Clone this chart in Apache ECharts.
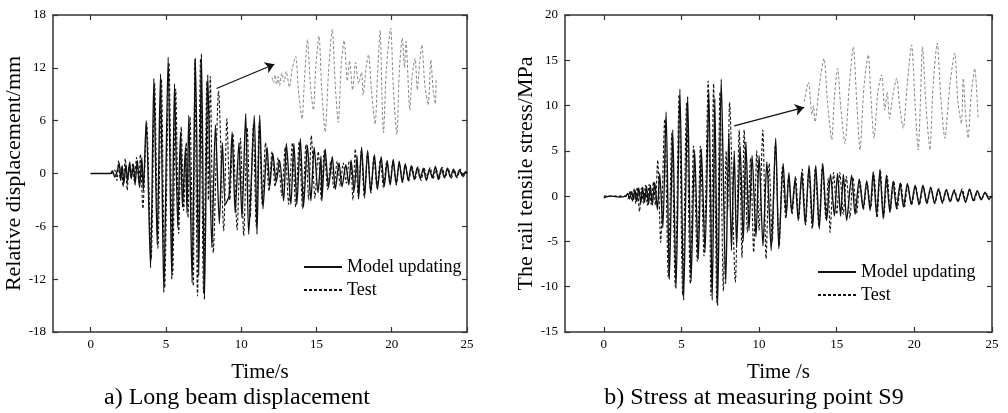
<!DOCTYPE html>
<html>
<head>
<meta charset="utf-8">
<script src="https://cdn.jsdelivr.net/npm/echarts@6/dist/echarts.min.js"></script>
<style>
  html, body { margin: 0; padding: 0; background: #fff; }
  #chart { width: 1008px; height: 413px; }
</style>
</head>
<body>
<div id="chart"></div>
<script>
// time ticks shared by both panels
const timeTicks = [0, 5, 10, 15, 20, 25];

// a) long beam displacement (mm), extrema as [time, value]
const dispModel = [
  [0, 0], [1.3, 0], [1.45, 0.3], [1.6, -0.4], [1.8, 0.5], [1.9, 1.2], [2.0, -0.8], [2.1, 0.9], [2.2, -1.2],
  [2.35, 1.0], [2.45, -0.9], [2.6, 1.3], [2.7, -0.6], [2.85, 1.0], [2.95, -1.3], [3.1, 1.5], [3.25, -1.6],
  [3.4, 1.8], [3.5, -2.0], [3.69, 6.0], [3.98, -10.7], [4.2, 10.8], [4.42, -8.0], [4.64, 11.3], [4.86, -13.5],
  [5.15, 13.2], [5.39, -12.0], [5.57, 10.2], [5.79, -6.1], [5.97, 4.7], [6.1, -3.8], [6.3, 3.0], [6.4, -4.5],
  [6.52, 6.6], [6.74, -12.4], [6.96, 13.1], [7.18, -11.6], [7.36, 13.6], [7.56, -14.3], [7.78, 11.2],
  [8.05, -8.4], [8.29, 5.5], [8.55, -5.7], [8.75, 3.5], [8.95, -3.5], [9.2, -2.5], [9.4, 4.7], [9.6, -4.5],
  [9.85, 3.5], [10.05, -5.0], [10.3, 6.8], [10.5, -6.9], [10.87, 6.6], [11.05, -6.9], [11.23, 6.6],
  [11.45, -4.0], [11.72, 3.0], [11.9, -1.5], [12.1, 2.3], [12.33, -1.0], [12.55, 1.5], [12.82, -3.1],
  [13.0, 3.4], [13.3, -3.5], [13.5, 3.4], [13.7, -3.5], [13.93, 3.95], [14.14, -3.8], [14.4, 3.2],
  [14.63, -3.1], [14.85, 3.0], [15.1, -2.2], [15.3, 2.0], [15.36, -3.1], [15.58, 2.8], [15.8, -1.6],
  [16.05, 1.9], [16.25, -1.8], [16.5, 1.2], [16.7, -1.5], [16.95, 1.0], [17.15, -1.3], [17.3, 1.5],
  [17.5, -2.0], [17.7, 2.0], [17.8, -2.9], [18.0, 3.0], [18.2, -2.5], [18.4, 2.6], [18.6, -2.1],
  [18.85, 2.1], [19.05, -1.8], [19.3, 1.9], [19.5, -1.5], [19.7, 1.4], [19.9, -1.3], [20.1, 1.6],
  [20.3, -1.2], [20.5, 1.4], [20.7, -1.0], [20.9, 1.1], [21.1, -0.8], [21.3, 0.9], [21.5, -0.7],
  [21.7, 0.7], [21.9, -0.6], [22.1, 0.6], [22.3, -0.8], [22.5, 0.5], [22.7, -0.5], [22.9, 0.8],
  [23.1, -0.7], [23.3, 0.6], [23.5, -0.5], [23.7, 0.6], [23.9, -0.4], [24.1, 0.5], [24.3, -0.4],
  [24.5, 0.4], [24.7, -0.3], [24.9, 0.2], [25, 0]
];
const dispTest = [
  [0, 0], [1.4, 0], [1.6, 0.4], [1.75, -0.8], [1.85, 1.4], [1.95, -0.5], [2.05, 0.8], [2.15, -1.5],
  [2.3, 1.7], [2.43, -1.9], [2.55, 1.0], [2.68, -0.5], [2.8, 1.2], [2.9, -0.9], [3.05, 1.8], [3.2, -1.0],
  [3.3, 2.2], [3.47, -4.0], [3.72, 5.8], [4.02, -9.8], [4.25, 10.3], [4.47, -8.5], [4.7, 10.7],
  [4.92, -13.0], [5.2, 12.6], [5.45, -11.5], [5.65, 9.6], [5.85, -6.8], [6.02, 5.3], [6.18, -4.2],
  [6.35, 3.5], [6.47, -5.0], [6.6, 6.4], [6.82, -12.8], [6.92, 12.9], [7.1, -13.9], [7.3, 13.0],
  [7.5, -13.6], [7.72, 10.5], [7.82, -3.0], [7.95, 11.0], [8.15, -9.0], [8.5, 9.4], [8.84, -6.5],
  [9.05, 6.2], [9.25, -3.0], [9.45, 4.5], [9.73, -6.4], [9.95, 4.0], [10.17, -7.1], [10.4, 5.2],
  [10.6, -5.0], [10.8, 5.5], [11.0, -6.0], [11.2, 5.8], [11.4, -3.5], [11.62, 3.5], [11.85, -2.0],
  [12.05, 2.5], [12.25, -1.5], [12.45, 1.8], [12.7, -2.5], [12.92, 3.0], [13.15, -3.5], [13.4, 3.5],
  [13.62, -3.8], [13.85, 3.6], [14.08, -4.0], [14.3, 3.3], [14.48, -3.0], [14.66, 4.3], [14.9, -2.8],
  [15.12, 2.5], [15.32, -3.0], [15.52, 2.6], [15.75, -1.8], [15.95, 1.4], [16.15, -1.6], [16.38, 1.4],
  [16.58, -1.4], [16.78, 1.2], [16.98, -1.1], [17.18, 1.4], [17.3, 1.0], [17.42, -3.0], [17.58, 2.8],
  [17.78, -2.6], [17.98, 2.6], [18.18, -2.8], [18.4, 2.4], [18.62, -2.2], [18.82, 2.0], [19.02, -1.6],
  [19.25, 1.6], [19.45, -1.6], [19.68, 1.5], [19.88, -1.2], [20.08, 1.4], [20.3, -1.3], [20.52, 1.1],
  [20.72, -1.0], [20.92, 0.9], [21.12, -0.9], [21.35, 0.8], [21.55, -0.7], [21.75, 0.8], [21.95, -0.8],
  [22.15, 0.6], [22.35, -0.6], [22.55, 0.7], [22.75, -0.6], [22.95, 0.5], [23.15, -0.6], [23.35, 0.7],
  [23.55, -0.5], [23.75, 0.6], [23.95, -0.6], [24.15, 0.4], [24.35, -0.5], [24.55, 0.5], [24.75, -0.4],
  [24.95, 0.2], [25, 0]
];
// enlarged test trace drawn in the upper right of panel a)
const dispZoom = [
  [12.05, 10.9], [12.15, 10.3], [12.25, 11.2], [12.35, 10.1], [12.45, 11.0], [12.55, 10.0], [12.7, 11.4],
  [12.85, 10.4], [13.0, 11.6], [13.2, 9.8], [13.4, 12.0], [13.62, 13.3], [13.8, 9.5], [14.04, 6.2],
  [14.2, 10.5], [14.4, 15.2], [14.6, 10.0], [14.8, 7.2], [14.95, 12.0], [15.17, 15.6], [15.35, 9.5],
  [15.58, 4.7], [15.8, 11.5], [16.05, 16.4], [16.25, 10.0], [16.45, 5.8], [16.65, 12.5], [16.84, 15.1],
  [17.05, 10.5], [17.2, 12.8], [17.4, 9.5], [17.6, 12.6], [17.8, 10.2], [18.0, 11.5], [18.1, 8.9],
  [18.3, 12.0], [18.46, 13.5], [18.65, 9.5], [18.9, 5.6], [19.05, 11.0], [19.23, 16.3], [19.35, 9.0],
  [19.45, 4.6], [19.65, 12.0], [19.93, 16.5], [20.1, 10.0], [20.34, 4.4], [20.5, 11.5], [20.7, 15.4],
  [20.85, 12.0], [20.95, 15.0], [21.2, 7.2], [21.35, 11.0], [21.55, 13.1], [21.7, 9.5], [21.85, 12.5],
  [22.0, 14.6], [22.2, 10.0], [22.42, 7.8], [22.6, 12.9], [22.75, 9.5], [22.9, 7.9], [22.95, 10.8]
];
const dispArrow = [[8.36, 9.65], [12.2, 12.4]];

// b) rail tensile stress at S9 (MPa)
const stressModel = [
  [0, -0.2], [0.1, -0.1], [0.5, 0], [1.0, -0.1], [1.4, 0], [1.55, 0.3], [1.65, -0.3], [1.8, 0.5],
  [1.9, -0.4], [2.0, 0.7], [2.12, -0.6], [2.25, 0.9], [2.38, -0.8], [2.5, 1.0], [2.62, -0.7], [2.75, 1.1],
  [2.88, -0.9], [3.0, 1.2], [3.12, -1.0], [3.28, 1.5], [3.45, -1.5], [3.6, 2.5], [3.8, -3.5], [4.01, 9.3],
  [4.22, -9.2], [4.44, 7.3], [4.65, -10.2], [4.9, 11.8], [5.14, -11.5], [5.4, 11.0], [5.62, -9.4],
  [5.85, 5.0], [6.08, -7.0], [6.28, 5.2], [6.52, -6.2], [6.76, 11.5], [6.98, -11.5], [7.15, 10.8],
  [7.33, -12.1], [7.56, 12.9], [7.85, -9.7], [8.05, 7.0], [8.22, -6.0], [8.4, 5.0], [8.55, -5.5],
  [8.78, 5.5], [8.98, -5.0], [9.15, 6.0], [9.35, -3.8], [9.55, 4.5], [9.8, -4.5], [10.0, 4.5],
  [10.25, -5.5], [10.5, 3.8], [10.78, -6.0], [11.07, 6.4], [11.27, -5.8], [11.55, 3.6], [11.75, -2.2],
  [11.92, 2.6], [12.1, -1.8], [12.32, 1.9], [12.52, -2.7], [12.75, 2.6], [12.97, -3.1], [13.22, 3.4],
  [13.45, -3.4], [13.65, 3.4], [13.88, -3.6], [14.1, 3.6], [14.35, -2.7], [14.6, 2.4], [14.85, -2.2],
  [15.05, 2.5], [15.25, -2.2], [15.43, 2.4], [15.64, -2.7], [15.96, 2.3], [16.18, -2.0], [16.45, 1.9],
  [16.7, -1.4], [16.93, 1.7], [17.15, -1.6], [17.35, 2.7], [17.57, -2.1], [17.78, 2.8], [18.0, -2.5],
  [18.2, 2.3], [18.42, -1.8], [18.63, 1.6], [18.85, -1.4], [19.08, 1.4], [19.3, -1.2], [19.55, 1.4],
  [19.8, -0.9], [20.05, 1.2], [20.3, -0.9], [20.55, 1.2], [20.8, -0.8], [21.05, 1.0], [21.3, -0.8],
  [21.55, 0.8], [21.8, -0.7], [22.05, 0.7], [22.3, -0.6], [22.55, 0.6], [22.8, -0.6], [23.05, 0.6],
  [23.3, -0.7], [23.55, 0.8], [23.8, -0.5], [24.05, 0.6], [24.3, -0.4], [24.55, 0.4], [24.8, -0.3], [25, 0]
];
const stressTest = [
  [0, 0], [1.4, 0], [1.55, -0.3], [1.7, 0.6], [1.82, -0.6], [1.95, 0.8], [2.05, -0.8], [2.15, 1.0],
  [2.3, -1.7], [2.42, 0.9], [2.55, -0.8], [2.68, 1.2], [2.8, -1.0], [2.92, 1.3], [3.05, -0.9], [3.2, 1.6],
  [3.32, -1.0], [3.47, 4.0], [3.66, -5.1], [3.92, 8.5], [4.15, -9.0], [4.38, 7.0], [4.6, -10.0],
  [4.85, 11.2], [5.08, -11.0], [5.33, 10.3], [5.57, -9.7], [5.78, 5.5], [6.02, -7.2], [6.22, 5.5],
  [6.45, -6.6], [6.72, 12.7], [6.9, -11.0], [7.07, 12.4], [7.28, -11.8], [7.48, 11.5], [7.7, -10.5],
  [7.88, 5.0], [7.98, -1.5], [8.1, 10.4], [8.47, -9.5], [8.72, 7.3], [8.9, -6.8], [9.04, 7.3],
  [9.25, -4.0], [9.45, 4.2], [9.65, -6.2], [9.85, 5.0], [10.0, -3.8], [10.24, 7.3], [10.45, -6.9],
  [10.65, 3.6], [10.85, -5.0], [11.05, 5.8], [11.3, -5.5], [11.5, 3.2], [11.72, -2.5], [11.9, 2.2],
  [12.12, -2.0], [12.35, 2.2], [12.55, -2.5], [12.78, 3.0], [13.0, -3.2], [13.2, 3.0], [13.42, -3.6],
  [13.62, 3.2], [13.85, -3.4], [14.08, 3.5], [14.3, -2.5], [14.45, 2.0], [14.57, -4.0], [14.8, 2.6],
  [15.0, -2.0], [15.2, 2.6], [15.42, -2.0], [15.62, 2.2], [15.85, -2.4], [16.05, 2.1], [16.28, -1.9],
  [16.5, 1.6], [16.72, -1.5], [16.95, 1.5], [17.18, -1.3], [17.4, 2.3], [17.6, -2.4], [17.8, 3.0],
  [18.02, -2.3], [18.25, 2.2], [18.45, -1.7], [18.67, 1.7], [18.9, -1.4], [19.12, 1.5], [19.35, -1.3],
  [19.58, 1.3], [19.82, -1.0], [20.08, 1.1], [20.32, -1.0], [20.58, 1.1], [20.82, -0.8], [21.08, 0.9],
  [21.32, -0.8], [21.58, 0.8], [21.82, -0.8], [22.08, 0.7], [22.32, -0.6], [22.58, 0.7], [22.82, -0.6],
  [23.08, 0.8], [23.32, -0.5], [23.58, 0.7], [23.82, -0.6], [24.08, 0.5], [24.32, -0.4], [24.58, 0.5],
  [24.82, -0.4], [25, 0]
];
const stressZoom = [
  [12.9, 10.4], [13.18, 12.6], [13.4, 9.0], [13.5, 10.0], [13.6, 8.2], [13.9, 12.5], [14.18, 15.2],
  [14.4, 10.5], [14.68, 6.2], [14.85, 11.0], [15.06, 14.1], [15.25, 10.0], [15.53, 5.8], [15.8, 12.0],
  [16.07, 16.5], [16.3, 10.0], [16.5, 5.1], [16.75, 12.0], [17.03, 15.6], [17.2, 11.0], [17.4, 6.4],
  [17.65, 11.5], [17.89, 13.4], [18.1, 9.5], [18.25, 11.5], [18.4, 8.6], [18.6, 11.0], [18.86, 13.0],
  [19.05, 10.0], [19.28, 7.5], [19.55, 12.5], [19.82, 16.7], [20.05, 10.0], [20.25, 5.1], [20.4, 11.0],
  [20.52, 16.5], [20.75, 10.0], [21.0, 5.1], [21.2, 12.0], [21.47, 16.9], [21.7, 11.0], [21.96, 6.4],
  [22.3, 12.5], [22.6, 15.8], [22.8, 10.5], [23.03, 8.0], [23.15, 13.0], [23.3, 9.0], [23.46, 6.4],
  [23.65, 11.0], [23.89, 14.1], [24.05, 10.5], [24.1, 8.7]
];
const stressArrow = [[8.4, 7.75], [12.9, 9.8]];

const font = 'Liberation Serif, Times New Roman, serif';
const axisColor = '#333';

function xAxes(gridIndex, name) {
  const base = {
    type: 'value', gridIndex, min: -2.5, max: 25,
    axisLine: { show: true, onZero: false, lineStyle: { color: axisColor, width: 1.5 } },
    splitLine: { show: false },
    axisTick: { show: true, inside: true, length: 5, customValues: timeTicks, lineStyle: { color: axisColor, width: 1.2 } }
  };
  return [
    Object.assign({}, base, {
      position: 'bottom',
      name, nameLocation: 'middle', nameGap: 30,
      nameTextStyle: { fontFamily: font, fontSize: 21, color: '#000' },
      axisLabel: { customValues: timeTicks, fontFamily: font, fontSize: 13, color: '#000', margin: 6 }
    }),
    Object.assign({}, base, { position: 'top', axisLabel: { show: false } })
  ];
}

function yAxes(gridIndex, min, max, interval, name) {
  const base = {
    type: 'value', gridIndex, min, max, interval,
    axisLine: { show: true, onZero: false, lineStyle: { color: axisColor, width: 1.5 } },
    splitLine: { show: false },
    axisTick: { show: true, inside: true, length: 5, lineStyle: { color: axisColor, width: 1.2 } }
  };
  return [
    Object.assign({}, base, {
      position: 'left',
      name, nameLocation: 'middle', nameGap: 27,
      nameTextStyle: { fontFamily: font, fontSize: 22, color: '#000' },
      axisLabel: { fontFamily: font, fontSize: 13, color: '#000', margin: 7 }
    }),
    Object.assign({}, base, { position: 'right', axisLabel: { show: false } })
  ];
}

function trace(name, data, xi, yi, dashed) {
  return {
    name, type: 'line', data, xAxisIndex: xi, yAxisIndex: yi,
    symbol: 'none', smooth: 0.25, animation: false,
    itemStyle: { color: '#111' },
    lineStyle: { color: '#111', width: dashed ? 1.1 : 1.4, type: dashed ? [3, 2] : 'solid' }
  };
}

function inset(data, xi, yi, arrow) {
  return {
    name: 'zoom', type: 'line', data, xAxisIndex: xi, yAxisIndex: yi,
    symbol: 'none', smooth: 0.25, animation: false,
    lineStyle: { color: '#888', width: 1, type: [3, 2] },
    markLine: {
      silent: true, animation: false,
      symbol: ['none', 'arrow'], symbolSize: 9,
      label: { show: false },
      lineStyle: { color: '#111', width: 1.2, type: 'solid' },
      data: [[{ coord: arrow[0] }, { coord: arrow[1] }]]
    }
  };
}

const legendBase = {
  orient: 'vertical', itemWidth: 38, itemHeight: 10, itemGap: 5,
  selectedMode: false,
  itemStyle: { opacity: 0 },
  textStyle: { fontFamily: font, fontSize: 18, color: '#000' },
  data: ['Model updating', 'Test']
};

const chart = echarts.init(document.getElementById('chart'), null, { renderer: 'canvas' });
chart.setOption({
  animation: false,
  backgroundColor: '#fff',
  grid: [
    { left: 53, top: 15, width: 414, height: 317, outerBoundsMode: 'none' },
    { left: 565, top: 15, width: 427, height: 317, outerBoundsMode: 'none' }
  ],
  xAxis: [...xAxes(0, 'Time/s'), ...xAxes(1, 'Time /s')],
  yAxis: [...yAxes(0, -18, 18, 6, 'Relative displacement/mm'), ...yAxes(1, -15, 20, 5, 'The rail tensile stress/MPa')],
  legend: [
    Object.assign({}, legendBase, { left: 298, top: 253 }),
    Object.assign({}, legendBase, { left: 812, top: 258 })
  ],
  series: [
    trace('Test', dispTest, 0, 0, true),
    trace('Model updating', dispModel, 0, 0, false),
    inset(dispZoom, 0, 0, dispArrow),
    trace('Test', stressTest, 2, 2, true),
    trace('Model updating', stressModel, 2, 2, false),
    inset(stressZoom, 2, 2, stressArrow)
  ],
  graphic: [
    { type: 'text', x: 237, y: 398, style: { text: 'a) Long beam displacement', font: '24px ' + font, fill: '#000', textAlign: 'center', textVerticalAlign: 'middle' } },
    { type: 'text', x: 754, y: 398, style: { text: 'b) Stress at measuring point S9', font: '24px ' + font, fill: '#000', textAlign: 'center', textVerticalAlign: 'middle' } }
  ]
});
</script>
</body>
</html>
